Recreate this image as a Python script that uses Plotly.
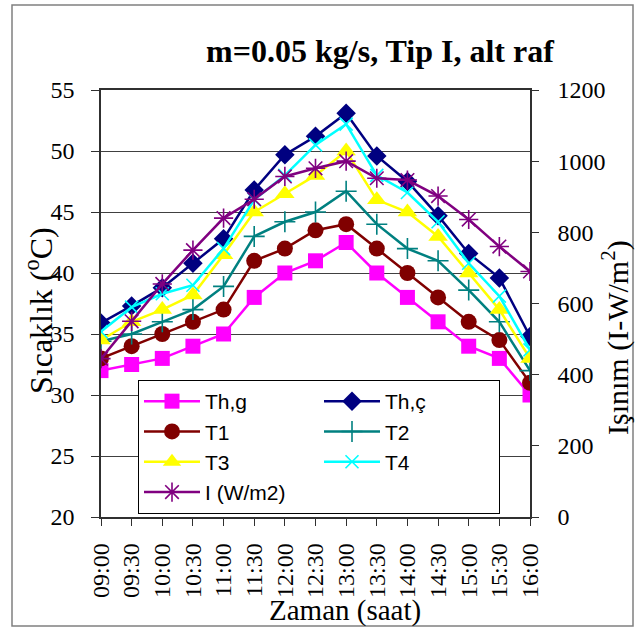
import plotly.graph_objects as go

times = ["09:00", "09:30", "10:00", "10:30", "11:00", "11:30", "12:00", "12:30",
         "13:00", "13:30", "14:00", "14:30", "15:00", "15:30", "16:00"]
th_g = [32, 32.5, 33, 34, 35, 38, 40, 41, 42.5, 40, 38, 36, 34, 33, 30]
th_c = [35.9, 37.3, 38.8, 40.8, 42.8, 46.8, 49.7, 51.2, 53.1, 49.6, 47.5, 44.7, 41.6, 39.6, 34.8]
t1 = [33, 34, 35, 36, 37, 41, 42, 43.5, 44, 42, 40, 38, 36, 34.5, 31]
t2 = [34.4, 35, 36, 37, 38.9, 43, 44.2, 45, 46.7, 44, 42, 41, 38.6, 36, 32]
t3 = [34.5, 36, 37, 38.2, 41.5, 45, 46.5, 48, 50, 46, 45, 43, 40, 37, 33]
t4 = [35.2, 37.2, 38.3, 39, 42, 46, 48, 50.5, 52.2, 48, 46.6, 44.2, 40.8, 38.1, 33.7]
irr = [445, 550, 655, 750, 840, 893, 957, 980, 1000, 952, 947, 902, 836, 760, 690]

SERIF = "Times New Roman, Liberation Serif, serif"
SANS = "Liberation Sans"

W, H = 644, 631
L, R, T, B = 101, 530, 90, 517

def px(x):
    return (x - L) / (R - L)

def py(y):
    return (B - y) / (B - T)

fig = go.Figure()

series = [
    ("Th,g", th_g, "#FF00FF", "square", 15, "y"),
    ("Th,ç", th_c, "#000080", "diamond", 15, "y"),
    ("T1", t1, "#800000", "circle", 16, "y"),
    ("T2", t2, "#008080", "cross-thin-open", 15, "y"),
    ("T3", t3, "#FFFF00", "triangle-up", 17, "y"),
    ("T4", t4, "#00FFFF", "x-thin-open", 13, "y"),
    ("I (W/m2)", irr, "#800080", "asterisk-open", 16, "y2"),
]
for name, vals, col, sym, size, ax in series:
    fig.add_trace(go.Scatter(
        x=times, y=vals, name=name, mode="lines+markers", yaxis=ax,
        line=dict(color=col, width=2.5),
        marker=dict(symbol=sym, size=size, color=col,
                    line=dict(color=col, width=1.6 if "open" in sym else 0)),
    ))

axis_line = "#303030"
fig.update_layout(
    template="none",
    font=dict(family=SERIF, size=24, color="black"),
    width=W, height=H,
    margin=dict(l=L, r=W - R, t=T, b=H - B, autoexpand=False),
    paper_bgcolor="white", plot_bgcolor="white",
    showlegend=True,
    title=dict(text="m=0.05 kg/s, Tip I, alt raf", xref="container", yref="container",
               x=380 / W, y=1 - 51 / H, xanchor="center", yanchor="middle",
               font=dict(family=SERIF, size=32, color="black", weight="bold")),
    xaxis=dict(type="category", range=[0, 14], showgrid=False, automargin=False,
               showline=True, linecolor=axis_line, linewidth=1.5, mirror=True,
               ticks="outside", ticklen=7, tickwidth=1.2, tickcolor=axis_line,
               tickangle=-90, tickfont=dict(family=SERIF, size=24, color="black"),
               ticklabelstandoff=8),
    xaxis2=dict(overlaying="x", anchor="y", side="bottom", range=[0, 14], dtick=1,
                automargin=False, showgrid=False, showline=False, ticks="inside",
                ticklen=7, tickwidth=1.2, tickcolor=axis_line, showticklabels=False,
                zeroline=False),
    yaxis=dict(range=[20, 55], dtick=5, showgrid=True, gridcolor="#404040", gridwidth=1,
               automargin=False,
               showline=True, linecolor=axis_line, linewidth=1.5, zeroline=False,
               ticks="outside", ticklen=8, tickwidth=1.2, tickcolor=axis_line,
               tickfont=dict(family=SERIF, size=24, color="black"), ticklabelstandoff=12),
    yaxis2=dict(range=[0, 1200], dtick=200, overlaying="y", side="right", showgrid=False,
                automargin=False,
                showline=True, linecolor=axis_line, linewidth=1.5, zeroline=False,
                ticks="outside", ticklen=7, tickwidth=1.2, tickcolor=axis_line,
                tickfont=dict(family=SERIF, size=24, color="black"), ticklabelstandoff=14),
    yaxis3=dict(range=[0, 1200], dtick=200, overlaying="y", side="right", anchor="x",
                automargin=False,
                showgrid=False, showline=False, zeroline=False, ticks="inside", ticklen=7,
                tickwidth=1.2, tickcolor=axis_line, showticklabels=False),
    legend=dict(x=px(138), y=py(380), xanchor="left", yanchor="top",
                orientation="h", entrywidth=109, traceorder="normal",
                bgcolor="white", bordercolor="black", borderwidth=1,
                font=dict(family=SANS, size=21, color="black"),
                itemwidth=56, tracegroupgap=0),
    annotations=[
        dict(text="Sıcaklık (<sup>o</sup>C)", xref="paper", yref="paper",
             x=px(39), y=py(311), textangle=-90, showarrow=False,
             xanchor="center", yanchor="middle",
             font=dict(family=SERIF, size=32, color="black")),
        dict(text="Işınım (I-W/m<sup>2</sup>)", xref="paper", yref="paper",
             x=px(615), y=py(338), textangle=-90, showarrow=False,
             xanchor="center", yanchor="middle",
             font=dict(family=SERIF, size=30, color="black")),
        dict(text="Zaman (saat)", xref="paper", yref="paper",
             x=px(345), y=py(610), showarrow=False,
             xanchor="center", yanchor="middle",
             font=dict(family=SERIF, size=29, color="black")),
    ],
    shapes=[
        dict(type="rect", xref="paper", yref="paper", x0=px(12), x1=px(633),
             y0=py(626), y1=py(5), line=dict(color="#808080", width=1.5),
             fillcolor="rgba(0,0,0,0)", layer="below"),
    ],
)

fig.write_html("out.html")
